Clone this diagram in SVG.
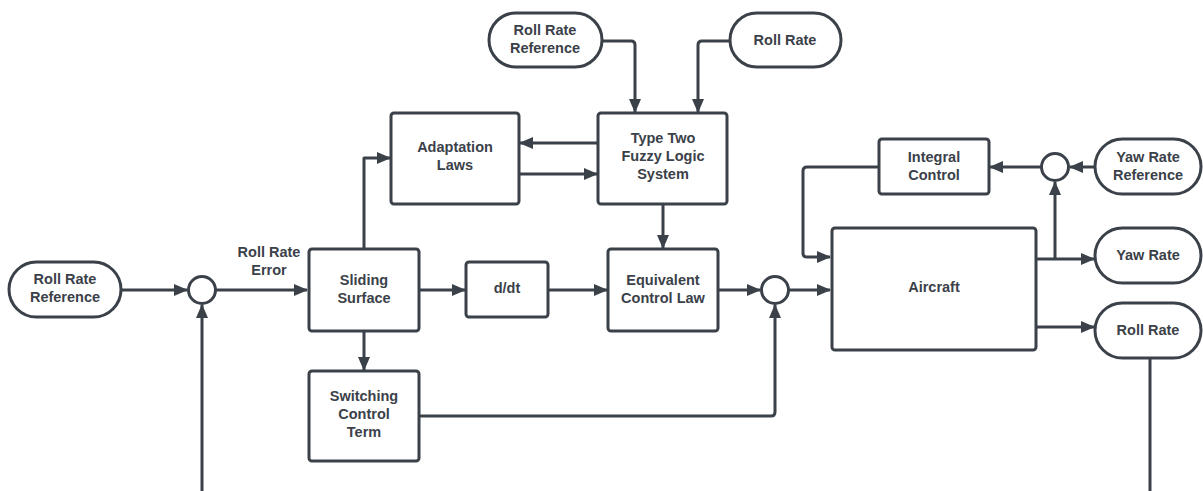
<svg xmlns="http://www.w3.org/2000/svg" width="1203" height="491" viewBox="0 0 1203 491">
<defs>
<style>
.b{fill:#fff;stroke:#3b4149;stroke-width:3}
.c{fill:none;stroke:#3b4149;stroke-width:3;stroke-linejoin:round}
.t{font-family:"Liberation Sans",Arial,sans-serif;font-weight:bold;font-size:14.5px;fill:#3b4149;text-anchor:middle}
</style>
<marker id="a" markerUnits="userSpaceOnUse" markerWidth="14" markerHeight="12" refX="13" refY="6" orient="auto">
<path d="M0,0 L14,6 L0,12 z" fill="#3b4149"/>
</marker>
</defs>
<rect width="1203" height="491" fill="#fff"/>
<g id="connectors">
<path class="c" d="M121,290 H187" marker-end="url(#a)"/>
<path class="c" d="M216,290 H307" marker-end="url(#a)"/>
<path class="c" d="M1150,358 V500 H202 V305" marker-end="url(#a)"/>
<path class="c" d="M364,249 V158 H390" marker-end="url(#a)"/>
<path class="c" d="M598,143 H520" marker-end="url(#a)"/>
<path class="c" d="M519,174 H597" marker-end="url(#a)"/>
<path class="c" d="M419,290 H465" marker-end="url(#a)"/>
<path class="c" d="M548,290 H607" marker-end="url(#a)"/>
<path class="c" d="M663,204 V248" marker-end="url(#a)"/>
<path class="c" d="M364,331 V370" marker-end="url(#a)"/>
<path class="c" d="M419,416 H771 Q775,416 775,412 V305" marker-end="url(#a)"/>
<path class="c" d="M718,290 H760" marker-end="url(#a)"/>
<path class="c" d="M789,290 H830" marker-end="url(#a)"/>
<path class="c" d="M602,41 H631 Q635,41 635,45 V112" marker-end="url(#a)"/>
<path class="c" d="M730,41 H702 Q698,41 698,45 V112" marker-end="url(#a)"/>
<path class="c" d="M1095,167 H1070" marker-end="url(#a)"/>
<path class="c" d="M1041,167 H990" marker-end="url(#a)"/>
<path class="c" d="M879,167 H807 Q803,167 803,171 V253 Q803,257 807,257 H830" marker-end="url(#a)"/>
<path class="c" d="M1036,259 H1094" marker-end="url(#a)"/>
<path class="c" d="M1055,259 V182" marker-end="url(#a)"/>
<path class="c" d="M1036,327 H1094" marker-end="url(#a)"/>
</g>
<g id="rollRateRefLeft"><rect class="b" x="9" y="262" width="112" height="55" rx="27.5"/><text class="t" x="65" y="284">Roll Rate</text><text class="t" x="65" y="302">Reference</text></g>
<g id="sum1"><circle class="b" cx="202" cy="290" r="13.5"/></g>
<g id="errLabel"><text class="t" x="269" y="257">Roll Rate</text><text class="t" x="269" y="275">Error</text></g>
<g id="sliding"><rect class="b" x="309" y="249" width="110" height="82" rx="3"/><text class="t" x="364" y="285">Sliding</text><text class="t" x="364" y="303">Surface</text></g>
<g id="adaptation"><rect class="b" x="391" y="113" width="128" height="91" rx="3"/><text class="t" x="455" y="152">Adaptation</text><text class="t" x="455" y="170">Laws</text></g>
<g id="fuzzy"><rect class="b" x="598" y="113" width="129" height="91" rx="3"/><text class="t" x="663" y="143">Type Two</text><text class="t" x="663" y="161">Fuzzy Logic</text><text class="t" x="663" y="179">System</text></g>
<g id="ddt"><rect class="b" x="466" y="262" width="82" height="55" rx="3"/><text class="t" x="507" y="293">d/dt</text></g>
<g id="equivalent"><rect class="b" x="608" y="249" width="110" height="82" rx="3"/><text class="t" x="663" y="285">Equivalent</text><text class="t" x="663" y="303">Control Law</text></g>
<g id="switching"><rect class="b" x="309" y="371" width="110" height="90" rx="3"/><text class="t" x="364" y="401">Switching</text><text class="t" x="364" y="419">Control</text><text class="t" x="364" y="437">Term</text></g>
<g id="sum2"><circle class="b" cx="775" cy="290" r="13.5"/></g>
<g id="rollRateRefTop"><rect class="b" x="489" y="13" width="113" height="54" rx="27"/><text class="t" x="545" y="35">Roll Rate</text><text class="t" x="545" y="53">Reference</text></g>
<g id="rollRateTop"><rect class="b" x="730" y="13" width="111" height="54" rx="27"/><text class="t" x="785" y="45">Roll Rate</text></g>
<g id="aircraft"><rect class="b" x="832" y="228" width="204" height="122" rx="3"/><text class="t" x="934" y="292">Aircraft</text></g>
<g id="integral"><rect class="b" x="879" y="139" width="110" height="55" rx="3"/><text class="t" x="934" y="162">Integral</text><text class="t" x="934" y="180">Control</text></g>
<g id="sum3"><circle class="b" cx="1055" cy="167" r="13.5"/></g>
<g id="yawRateRef"><rect class="b" x="1095" y="139" width="106" height="55" rx="27.5"/><text class="t" x="1148" y="162">Yaw Rate</text><text class="t" x="1148" y="180">Reference</text></g>
<g id="yawRate"><rect class="b" x="1095" y="228" width="106" height="55" rx="27.5"/><text class="t" x="1148" y="260">Yaw Rate</text></g>
<g id="rollRateOut"><rect class="b" x="1095" y="303" width="106" height="55" rx="27.5"/><text class="t" x="1148" y="335">Roll Rate</text></g>
</svg>
